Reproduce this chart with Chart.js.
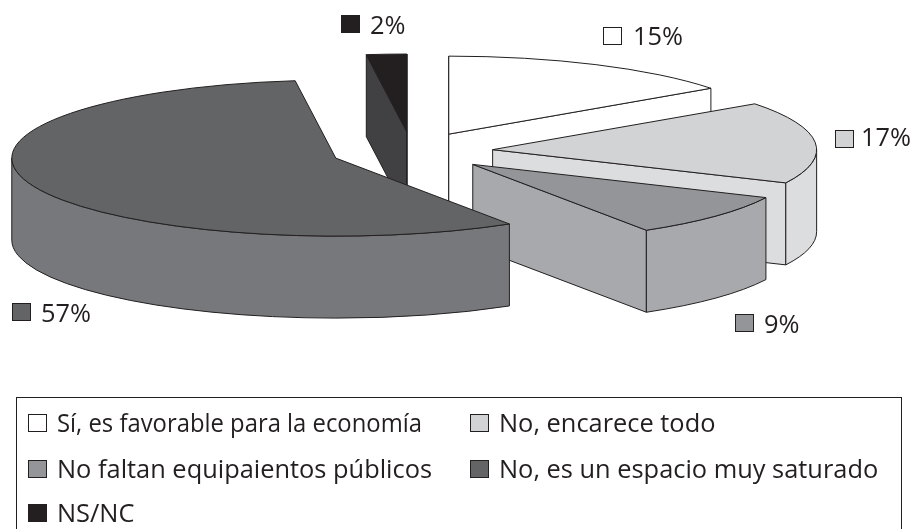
<!DOCTYPE html>
<html>
<head>
<meta charset="utf-8">
<style>
html, body { margin: 0; padding: 0; background: #fff; }
canvas { display: block; }
</style>
<script src="https://cdn.jsdelivr.net/npm/chart.js"></script>
</head>
<body>
<canvas id="pie" width="911" height="529"></canvas>
<script>
var categories = ["Sí, es favorable para la economía", "No, encarece todo", "No faltan equipaientos públicos", "No, es un espacio muy saturado", "NS/NC"];
var shares = [15, 17, 9, 57, 2];
var topColors = ["#ffffff", "#d1d3d4", "#939598", "#636466", "#231f20"];
var wallColors = ["#ffffff", "#dcddde", "#a7a9ac", "#77787b", "#414042"];
// back to front, the big slice covers the others
var drawOrder = [0, 4, 1, 2, 3];

// where the percent labels sit: swatch x, swatch y, text x, baseline
var labelSpots = [[603, 27, 633, 45], [835, 130, 861, 146], [735, 314, 764, 333], [12, 303, 41, 322], [341, 15, 370, 34]];
// legend cells: swatch x, swatch y, text x, baseline, widest text
var legendSpots = [[28, 414, 57, 432, 365], [470, 414, 499, 432, 400], [28, 460, 57, 478, 400], [470, 460, 499, 478, 400], [28, 504, 57, 522, 400]];

var INK = "#231f20";
var FONT = "25.4px 'Open Sans'";
var centerX = 412, centerY = 151.5;  // centre of the pie before the slices move out
var radiusX = 324, radiusY = 78, depth = 82;
var explode = 0.25;  // share of the radius each slice moves out

// arc offset option also narrows the slice, so the move is done here
function shape(el) {
	var mid = (el.startAngle + el.endAngle) / 2;
	return {
		x: centerX + Math.cos(mid) * explode * radiusX,
		y: centerY + Math.sin(mid) * explode * radiusY,
		a0: el.startAngle,
		a1: el.endAngle
	};
}

function wall(ctx, s, a, color) {
	// flat cut face from the apex out to the rim
	var rx = s.x + Math.cos(a) * radiusX, ry = s.y + Math.sin(a) * radiusY;
	ctx.beginPath();
	ctx.moveTo(s.x, s.y);
	ctx.lineTo(rx, ry);
	ctx.lineTo(rx, ry + depth);
	ctx.lineTo(s.x, s.y + depth);
	ctx.closePath();
	ctx.fillStyle = color;
	ctx.fill();
	ctx.stroke();
}

function rim(ctx, s, color) {
	// only the part of the rim that faces front
	var from = Math.max(s.a0, 0), to = Math.min(s.a1, Math.PI);
	if (to <= from) return;
	ctx.beginPath();
	ctx.ellipse(s.x, s.y, radiusX, radiusY, 0, from, to);
	ctx.ellipse(s.x, s.y + depth, radiusX, radiusY, 0, to, from, true);
	ctx.closePath();
	ctx.fillStyle = color;
	ctx.fill();
	ctx.stroke();
}

var pie3d = {
	id: "pie3d",
	beforeDatasetDraw: function (chart, args) {
		var ctx = chart.ctx, arcs = args.meta.data;
		ctx.save();
		ctx.strokeStyle = INK;
		ctx.lineWidth = 1;
		drawOrder.forEach(function (i) {
			var el = arcs[i], s = shape(el);
			if (Math.cos(s.a0) <= 0.001) wall(ctx, s, s.a0, wallColors[i]);
			if (Math.cos(s.a1) >= -0.001) wall(ctx, s, s.a1, wallColors[i]);
			rim(ctx, s, wallColors[i]);

			// top face comes from the library's own arc, squashed flat
			ctx.save();
			ctx.translate(s.x, s.y);
			ctx.scale(radiusX / el.outerRadius, radiusY / el.outerRadius);
			ctx.translate(-el.x, -el.y);
			el.draw(ctx, chart.chartArea);
			ctx.restore();

			ctx.beginPath();
			ctx.moveTo(s.x, s.y);
			ctx.ellipse(s.x, s.y, radiusX, radiusY, 0, s.a0, s.a1);
			ctx.closePath();
			ctx.stroke();
		});
		ctx.restore();
		return false;
	},
	afterDraw: function (chart) {
		var ctx = chart.ctx;
		ctx.save();
		ctx.font = FONT;
		ctx.textBaseline = "alphabetic";
		ctx.strokeStyle = INK;
		ctx.lineWidth = 1;
		ctx.strokeRect(16.5, 397.5, 885, 140);
		shares.forEach(function (v, i) {
			var p = labelSpots[i], q = legendSpots[i];
			ctx.fillStyle = topColors[i];
			ctx.fillRect(p[0] + 0.5, p[1] + 0.5, 18, 17);
			ctx.strokeRect(p[0] + 0.5, p[1] + 0.5, 18, 17);
			ctx.fillRect(q[0] + 0.5, q[1] + 0.5, 18, 17);
			ctx.strokeRect(q[0] + 0.5, q[1] + 0.5, 18, 17);
			ctx.fillStyle = INK;
			ctx.fillText(v + "%", p[2], p[3]);
			ctx.fillText(categories[i], q[2], q[3], q[4]);
		});
		ctx.restore();
	}
};

new Chart(document.getElementById("pie"), {
	type: "pie",
	data: {
		labels: categories,
		datasets: [{
			data: shares,
			backgroundColor: topColors,
			borderWidth: 0
		}]
	},
	options: {
		responsive: false,
		animation: false,
		rotation: 0,
		plugins: { legend: { display: false }, tooltip: { enabled: false } }
	},
	plugins: [pie3d]
});
</script>
</body>
</html>
